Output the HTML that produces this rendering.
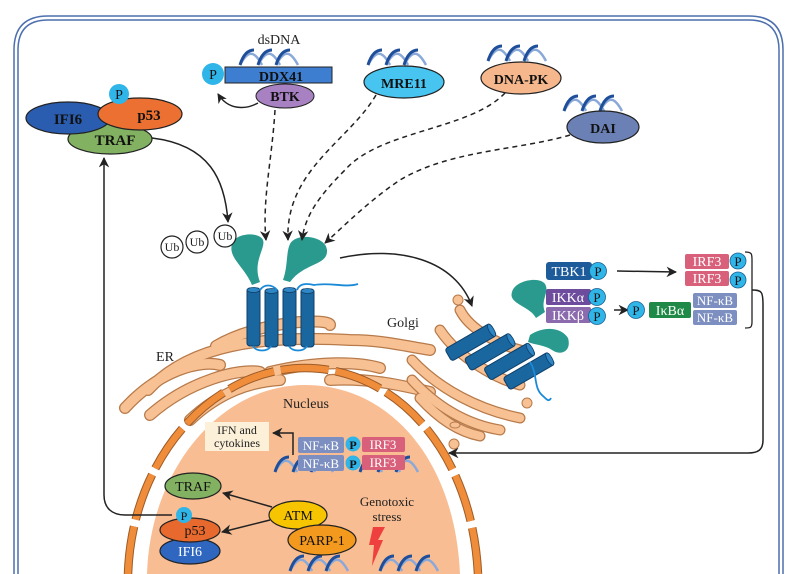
<!DOCTYPE html>
<html><head><meta charset="utf-8"><style>
html,body{margin:0;padding:0;background:#fff;width:800px;height:574px;overflow:hidden;}
svg{display:block;font-family:"Liberation Serif",serif;}
</style></head><body>
<svg width="800" height="574" viewBox="0 0 800 574" xmlns="http://www.w3.org/2000/svg">
<defs>
<marker id="ah" viewBox="0 0 10 10" refX="9" refY="5" markerWidth="7" markerHeight="7" orient="auto-start-reverse"><path d="M0,0 L10,5 L0,10 L3,5 Z" fill="#222"/></marker>
<g id="hx">
<path d="M0,15 C8,0 14,0 22,15 M18,15 C26,0 32,0 40,15 M36,15 C44,0 50,0 58,15" fill="none" stroke="#8aa8d8" stroke-width="2.5"/>
<path d="M0,15 C4,2 10,0 14,0 M18,15 C22,2 28,0 32,0 M36,15 C40,2 46,0 50,0" fill="none" stroke="#1f4f9a" stroke-width="3"/>
</g>
<g id="cyl">
<rect x="0" y="0" width="13" height="58" rx="3" fill="#1a67a0" stroke="#0d3f6a" stroke-width="1"/>
<ellipse cx="6.5" cy="2" rx="6.5" ry="2.5" fill="#2f86c4" stroke="#0d3f6a" stroke-width="0.8"/>
</g>
<g id="hcyl">
<rect x="0" y="0" width="52" height="14" rx="3" fill="#1a67a0" stroke="#0d3f6a" stroke-width="1"/>
<ellipse cx="50" cy="7" rx="2.5" ry="7" fill="#2f86c4" stroke="#0d3f6a" stroke-width="0.8"/>
</g>
</defs>

<path d="M14,574 L14,50 Q14,16 48,16 L749,16 Q783,16 783,50 L783,574" fill="none" stroke="#4c6fae" stroke-width="1.5"/>
<path d="M18,574 L18,50 Q18,20 48,20 L749,20 Q779,20 779,50 L779,574" fill="none" stroke="#4c6fae" stroke-width="1.5"/>

<g fill="none" stroke-linecap="round">
<g stroke="#b77a4a" stroke-width="12">
<path d="M216,346 C260,320 330,318 330,325"/>
<path d="M148,390 C190,345 260,335 350,340 C380,340 400,345 430,350"/>
<path d="M125,408 C160,370 200,360 220,365"/>
<path d="M150,415 C190,380 240,368 260,372"/>
<path d="M190,420 C220,392 250,382 280,380"/>
<path d="M270,372 C320,360 360,362 380,368"/>
<path d="M330,380 C370,378 400,385 430,392"/>
</g>
<g stroke="#f8c193" stroke-width="9.5">
<path d="M216,346 C260,320 330,318 330,325"/>
<path d="M148,390 C190,345 260,335 350,340 C380,340 400,345 430,350"/>
<path d="M125,408 C160,370 200,360 220,365"/>
<path d="M150,415 C190,380 240,368 260,372"/>
<path d="M190,420 C220,392 250,382 280,380"/>
<path d="M270,372 C320,360 360,362 380,368"/>
<path d="M330,380 C370,378 400,385 430,392"/>
</g>
</g>

<g fill="none" stroke-linecap="round">
<g stroke="#b77a4a" stroke-width="11">
<path d="M412,360 C440,390 480,410 520,418"/>
<path d="M412,380 C440,410 470,425 500,430"/>
<path d="M420,398 C440,420 460,432 480,436"/>
<path d="M440,330 C460,360 500,380 520,385"/>
<path d="M460,310 C470,330 500,345 520,350"/>
</g>
<g stroke="#f8c193" stroke-width="8.5">
<path d="M412,360 C440,390 480,410 520,418"/>
<path d="M412,380 C440,410 470,425 500,430"/>
<path d="M420,398 C440,420 460,432 480,436"/>
<path d="M440,330 C460,360 500,380 520,385"/>
<path d="M460,310 C470,330 500,345 520,350"/>
</g>
</g>
<g fill="#f8c193" stroke="#b77a4a" stroke-width="1">
<circle cx="458" cy="300" r="5"/><circle cx="527" cy="403" r="5"/><circle cx="454" cy="444" r="5"/><ellipse cx="455" cy="425" rx="5" ry="3"/>
</g>

<path d="M147,574 C150,470 220,385 305,385 C390,385 455,460 460,574 Z" fill="#f8bd93"/>
<path d="M128,574 C132,455 215,368 305,368 C395,368 472,450 478,574" fill="none" stroke="#9c5b28" stroke-width="8.5" stroke-dasharray="48 7"/>
<path d="M128,574 C132,455 215,368 305,368 C395,368 472,450 478,574" fill="none" stroke="#ef8d3b" stroke-width="6.5" stroke-dasharray="48 7"/>
<text x="306" y="408" font-size="14" text-anchor="middle" fill="#222">Nucleus</text>
<text x="165" y="361" font-size="14" text-anchor="middle" fill="#222">ER</text>
<text x="403" y="327" font-size="14" text-anchor="middle" fill="#222">Golgi</text>

<path d="M232,244 C236,232 260,232 263,240 C266,248 252,262 260,282 L252,285 C244,266 228,258 232,244 Z" fill="#2a9a8f"/>
<path d="M290,244 C296,232 326,236 327,250 C328,266 305,262 290,282 L283,280 C288,266 286,252 290,244 Z" fill="#2a9a8f"/>
<use href="#cyl" x="247" y="288"/><use href="#cyl" x="265" y="289"/><use href="#cyl" x="283" y="288"/><use href="#cyl" x="301" y="289"/>
<path d="M253,346 C256,352 268,352 271,346 M289,346 C292,352 304,352 307,346 M260,290 C264,284 272,284 277,290 M297,290 C300,282 310,284 314,285 C330,282 345,288 358,284" fill="none" stroke="#1a8ad8" stroke-width="1.8"/>

<g fill="#fff" stroke="#222" stroke-width="1.2">
<circle cx="172" cy="247" r="11"/><circle cx="197" cy="242" r="11"/><circle cx="225" cy="236" r="11"/>
</g>
<g font-size="12" text-anchor="middle" fill="#222"><text x="172" y="251">Ub</text><text x="197" y="246">Ub</text><text x="225" y="240">Ub</text></g>

<g transform="rotate(-30 470 345)">
<use href="#hcyl" x="446" y="336"/><use href="#hcyl" x="458" y="354"/><use href="#hcyl" x="470" y="372"/><use href="#hcyl" x="482" y="390"/>
</g>
<path d="M512,292 C515,280 540,276 545,284 C550,292 540,300 545,312 L536,318 C530,306 508,304 512,292 Z" fill="#2a9a8f"/>
<path d="M530,335 C545,325 562,328 568,338 C572,352 560,356 552,350 C545,345 535,345 528,342 Z" fill="#2a9a8f"/>
<path d="M530,362 C538,374 533,388 543,396 C547,400 549,402 551,398" fill="none" stroke="#1a8ad8" stroke-width="1.8"/>

<ellipse cx="110" cy="139" rx="42" ry="15" fill="#82b161" stroke="#222" stroke-width="1.2"/>
<ellipse cx="68" cy="118" rx="42" ry="16" fill="#2a5db0" stroke="#222" stroke-width="1.2"/>
<ellipse cx="140" cy="114" rx="42" ry="16" fill="#ec7032" stroke="#222" stroke-width="1.2"/>
<circle cx="119" cy="94" r="10" fill="#2fb5e8"/>
<g font-weight="bold" font-size="15" text-anchor="middle" fill="#111">
<text x="68" y="124">IFI6</text><text x="149" y="120">p53</text><text x="115" y="145">TRAF</text>
</g>
<text x="119" y="99" font-size="14" text-anchor="middle" fill="#111">P</text>

<text x="279" y="44" font-size="14" text-anchor="middle" fill="#222">dsDNA</text>
<use href="#hx" x="240" y="50"/>
<rect x="225" y="67" width="107" height="16" fill="#3d7ed0" stroke="#222" stroke-width="1"/>
<text x="281" y="81" font-size="14" font-weight="bold" text-anchor="middle" fill="#111">DDX41</text>
<circle cx="213" cy="74" r="11" fill="#2fb5e8"/>
<text x="213" y="79" font-size="14" text-anchor="middle" fill="#111">P</text>
<ellipse cx="285" cy="96" rx="29" ry="12" fill="#a781c2" stroke="#222" stroke-width="1"/>
<text x="285" y="101" font-size="14" font-weight="bold" text-anchor="middle" fill="#111">BTK</text>
<path d="M258,103 C245,110 228,110 218,94" fill="none" stroke="#222" stroke-width="1.4" marker-end="url(#ah)"/>

<use href="#hx" x="368" y="50"/>
<ellipse cx="404" cy="82" rx="40" ry="16" fill="#47c4f0" stroke="#222" stroke-width="1.2"/>
<text x="404" y="88" font-size="14" font-weight="bold" text-anchor="middle" fill="#111">MRE11</text>
<use href="#hx" x="488" y="46"/>
<ellipse cx="521" cy="78" rx="40" ry="16" fill="#f6b78d" stroke="#222" stroke-width="1.2"/>
<text x="521" y="84" font-size="14" font-weight="bold" text-anchor="middle" fill="#111">DNA-PK</text>
<use href="#hx" x="564" y="96"/>
<ellipse cx="603" cy="127" rx="36" ry="16" fill="#6b81b5" stroke="#222" stroke-width="1.2"/>
<text x="603" y="133" font-size="14" font-weight="bold" text-anchor="middle" fill="#111">DAI</text>

<g fill="none" stroke="#222" stroke-width="1.5" stroke-dasharray="5 4" marker-end="url(#ah)">
<path d="M275,110 C272,160 262,200 266,240"/>
<path d="M376,95 C350,140 285,170 288,240"/>
<path d="M505,93 C470,130 380,130 345,170 C320,195 305,215 302,240"/>
<path d="M570,135 C520,150 450,150 400,180 C370,200 345,225 325,243"/>
</g>

<g fill="none" stroke="#222" stroke-width="1.5" marker-end="url(#ah)">
<path d="M152,138 C210,145 225,180 228,222"/>
<path d="M340,258 C400,245 455,260 472,306"/>
<path d="M617,271 L676,272"/>
<path d="M614,310 L628,310"/>
<path d="M752,290 C762,290 763,292 763,305 L763,440 C763,450 758,453 748,453 L449,453"/>
<path d="M293,455 L293,433 L273,433"/>
<path d="M172,515 L125,515 C112,515 104,508 104,495 L104,158"/>
<path d="M272,507 L223,493"/>
<path d="M270,520 L222,532"/>
</g>
<path d="M745,252 C752,252 752,254 752,260 L752,322 C752,328 750,328 745,328" fill="none" stroke="#222" stroke-width="1.3"/>

<g font-size="14" fill="#fff" text-anchor="middle">
<rect x="546" y="262" width="46" height="18" rx="3" fill="#1d5b9a"/><text x="569" y="276">TBK1</text>
<rect x="685" y="254" width="44" height="15" rx="2" fill="#d9607a"/><text x="707" y="266">IRF3</text>
<rect x="685" y="271" width="44" height="15" rx="2" fill="#d9607a"/><text x="707" y="283">IRF3</text>
<rect x="546" y="289" width="45" height="16" rx="2" fill="#6d4c9e"/><text x="568" y="302">IKKα</text>
<rect x="546" y="307" width="45" height="16" rx="2" fill="#8b6aae"/><text x="568" y="320">IKKβ</text>
<rect x="649" y="302" width="42" height="16" rx="2" fill="#1f8a47"/><text x="670" y="315">IκBα</text>
<rect x="693" y="293" width="44" height="15" rx="2" fill="#7d8fc0"/><text x="715" y="305" font-size="13">NF-κB</text>
<rect x="693" y="310" width="44" height="15" rx="2" fill="#7d8fc0"/><text x="715" y="322" font-size="13">NF-κB</text>
</g>
<g fill="#2fb5e8" stroke="#1a5f90" stroke-width="0.8">
<circle cx="598" cy="271" r="8.5"/><circle cx="738" cy="261" r="8"/><circle cx="738" cy="280" r="8"/>
<circle cx="597" cy="297" r="8.5"/><circle cx="597" cy="316" r="8.5"/><circle cx="636" cy="310" r="8.5"/>
</g>
<g font-size="13" fill="#111" text-anchor="middle">
<text x="598" y="276">P</text><text x="738" y="266">P</text><text x="738" y="285">P</text>
<text x="597" y="302">P</text><text x="597" y="321">P</text><text x="636" y="315">P</text>
</g>

<use href="#hx" x="275" y="457"/><use href="#hx" x="360" y="457"/>
<rect x="205" y="422" width="64" height="29" fill="#fdf0d8"/>
<text x="237" y="434" font-size="12" text-anchor="middle" fill="#222">IFN and</text>
<text x="237" y="447" font-size="12" text-anchor="middle" fill="#222">cytokines</text>
<g font-size="13" fill="#fff" text-anchor="middle">
<rect x="298" y="437" width="46" height="16" rx="2" fill="#7d8fc0"/><text x="321" y="450">NF-κB</text>
<rect x="298" y="455" width="46" height="16" rx="2" fill="#7d8fc0"/><text x="321" y="468">NF-κB</text>
<rect x="362" y="437" width="43" height="15" rx="2" fill="#d9607a"/><text x="383" y="449">IRF3</text>
<rect x="362" y="455" width="43" height="15" rx="2" fill="#d9607a"/><text x="383" y="467">IRF3</text>
</g>
<circle cx="353" cy="444" r="7.5" fill="#2fb5e8"/><circle cx="353" cy="463" r="7.5" fill="#2fb5e8"/>
<text x="353" y="449" font-size="12" font-weight="bold" text-anchor="middle" fill="#111">P</text>
<text x="353" y="468" font-size="12" font-weight="bold" text-anchor="middle" fill="#111">P</text>

<use href="#hx" x="290" y="556"/><use href="#hx" x="380" y="556"/>
<ellipse cx="193" cy="486" rx="28" ry="13" fill="#82b161" stroke="#222" stroke-width="1.2"/>
<text x="193" y="491" font-size="14" text-anchor="middle" fill="#111">TRAF</text>
<ellipse cx="298" cy="515" rx="29" ry="14" fill="#f7c500" stroke="#222" stroke-width="1.2"/>
<text x="298" y="520" font-size="14" text-anchor="middle" fill="#111">ATM</text>
<ellipse cx="322" cy="540" rx="34" ry="15" fill="#f39a1e" stroke="#222" stroke-width="1.2"/>
<text x="322" y="545" font-size="14" text-anchor="middle" fill="#111">PARP-1</text>
<ellipse cx="190" cy="551" rx="30" ry="13" fill="#2e66c0" stroke="#222" stroke-width="1.2"/>
<text x="190" y="556" font-size="14" text-anchor="middle" fill="#fff">IFI6</text>
<ellipse cx="190" cy="530" rx="30" ry="12" fill="#e8692e" stroke="#222" stroke-width="1.2"/>
<text x="195" y="535" font-size="14" text-anchor="middle" fill="#111">p53</text>
<circle cx="184" cy="515" r="8" fill="#2fb5e8"/>
<text x="184" y="520" font-size="12" text-anchor="middle" fill="#111">P</text>
<text x="387" y="506" font-size="13" text-anchor="middle" fill="#222">Genotoxic</text>
<text x="387" y="521" font-size="13" text-anchor="middle" fill="#222">stress</text>
<path d="M373,527 L385,527 L378,540 L383,540 L372,566 L374,545 L369,545 Z" fill="#ef4040"/>
</svg>
</body></html>
